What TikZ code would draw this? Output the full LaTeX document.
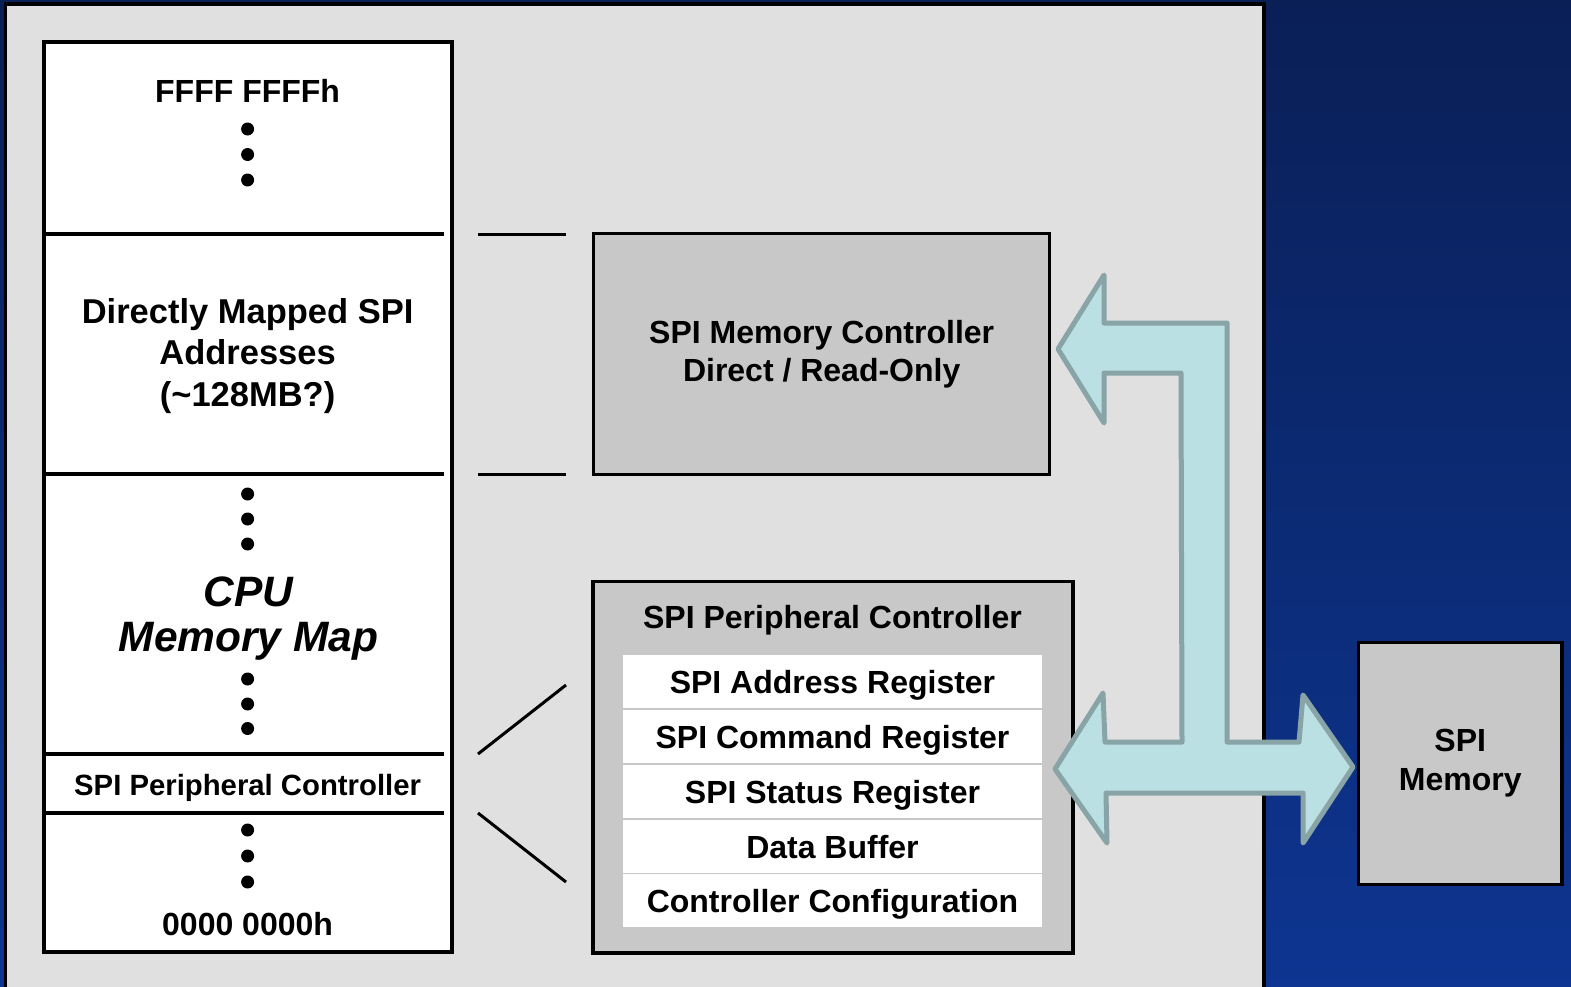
\documentclass[tikz,border=0pt]{standalone}
\usepackage{fontspec}
\setmainfont{Liberation Sans}
\definecolor{bgtop}{HTML}{0A1F56}
\definecolor{bgbot}{HTML}{0D3591}
\definecolor{panel}{HTML}{E0E0E0}
\definecolor{boxgray}{HTML}{C8C8C8}
\definecolor{arrowfill}{HTML}{BAE0E3}
\definecolor{arrowline}{HTML}{88A4A6}
\begin{document}
\begin{tikzpicture}[x=1pt,y=-1pt,
  box/.style={draw=black, line width=3.5pt, fill=boxgray, inner sep=0pt, outer sep=0pt},
  fnt/.style={font=\fontsize{#1}{#1}\selectfont\bfseries},
  lbl/.style={inner sep=0pt, outer sep=0pt, align=center},
  rowbox/.style={fill=white, minimum width=419pt, minimum height=53pt, inner sep=0pt,
     text height=24pt, text depth=0pt, fnt=32},
  divider/.style={line width=3.5pt},
  link/.style={line width=3pt},
  dotn/.style={circle, fill=black, minimum size=13pt, inner sep=0pt, outer sep=0pt}
]
\useasboundingbox (0,0) rectangle (1571,986);
\shade[top color=bgtop, bottom color=bgbot] (0,0) rectangle (1571,986);
\draw[fill=panel, line width=3.5pt] (5.5,4) rectangle (1264,1010);

% CPU memory map
\node[draw=black, line width=4pt, fill=white, minimum width=407.8pt, minimum height=910pt,
      inner sep=0pt, outer sep=0pt] (map) at (247.6,497) {};
\draw[divider] (map.west |- {0,234}) -- (444,234);
\draw[divider] (map.west |- {0,474}) -- (444,474);
\draw[divider] (map.west |- {0,754}) -- (444,754);
\draw[divider] (map.west |- {0,813}) -- (444,813);

\node[lbl, fnt=32, anchor=base] (top) at (247.6,102) {FFFF FFFFh};
\node[dotn] (d1) at (247.6,129) {};
\node[dotn] (d2) at (247.6,154.5) {};
\node[dotn] (d3) at (247.6,180) {};

\node[lbl, font=\fontsize{34.5}{41.5}\selectfont\bfseries] (direct) at (247.6,356) {Directly Mapped SPI\\Addresses\\(\char`\~128MB?)};

\node[dotn] (d4) at (247.6,494) {};
\node[dotn] (d5) at (247.6,519) {};
\node[dotn] (d6) at (247.6,544) {};
\node[lbl, font=\fontsize{42.5}{45}\selectfont\bfseries\itshape] (cpu) at (248.5,619) {CPU\\Memory Map};
\node[dotn] (d7) at (247.6,679) {};
\node[dotn] (d8) at (247.6,704) {};
\node[dotn] (d9) at (247.6,728.5) {};

\node[lbl, fnt=29.3, anchor=base] (mapspi) at (247.6,795) {SPI Peripheral Controller};
\node[dotn] (d10) at (247.6,830) {};
\node[dotn] (d11) at (247.6,856) {};
\node[dotn] (d12) at (247.6,882) {};
\node[lbl, fnt=32, anchor=base] (bottom) at (247.6,935) {0000 0000h};

% SPI memory controller
\node[box, minimum width=456pt, minimum height=240.6pt, align=center,
      font=\fontsize{32}{38.5}\selectfont\bfseries] (mc) at (821.7,354)
      {SPI Memory Controller\\Direct / Read-Only};

% SPI peripheral controller
\node[box, minimum width=480pt, minimum height=371.7pt] (pc) at (833,767.2) {};
\node[lbl, fnt=32, anchor=base] (pctitle) at (832.5,628) {SPI Peripheral Controller};
\node[rowbox] (r1) at (832.5,681) {SPI Address Register};
\node[rowbox] (r2) at (832.5,736) {SPI Command Register};
\node[rowbox] (r3) at (832.5,791) {SPI Status Register};
\node[rowbox] (r4) at (832.5,846) {Data Buffer};
\node[rowbox] (r5) at (832.5,900.5) {Controller Configuration};

% SPI memory
\node[box, minimum width=203.5pt, minimum height=242pt, align=center,
      font=\fontsize{32}{39}\selectfont\bfseries] (mem) at (1460.25,763.3) {SPI\\Memory};

% connectors from memory map to controllers
\coordinate (c1a) at (478,234);
\coordinate (c1b) at (566,234);
\coordinate (c2a) at (478,474);
\coordinate (c2b) at (566,474);
\coordinate (c3a) at (478,754);
\coordinate (c3b) at (566,685);
\coordinate (c4a) at (478,813);
\coordinate (c4b) at (566,882);
\draw[link] (c1a) -- (c1b);
\draw[link] (c2a) -- (c2b);
\draw[link] (c3a) -- (c3b);
\draw[link] (c4a) -- (c4b);

% bus arrow
\draw[fill=arrowfill, draw=arrowline, line width=5pt, line join=round]
  (1058,349) -- (1104,275) -- (1104,323) -- (1227,323) -- (1227,742) -- (1299,742)
  -- (1303,695) -- (1353,767) -- (1303,843) -- (1303,793) -- (1106,793)
  -- (1107,843) -- (1055,769) -- (1103,693) -- (1105,742) -- (1182,742)
  -- (1181,373) -- (1104,373) -- (1104,423) -- cycle;
\end{tikzpicture}
\end{document}
